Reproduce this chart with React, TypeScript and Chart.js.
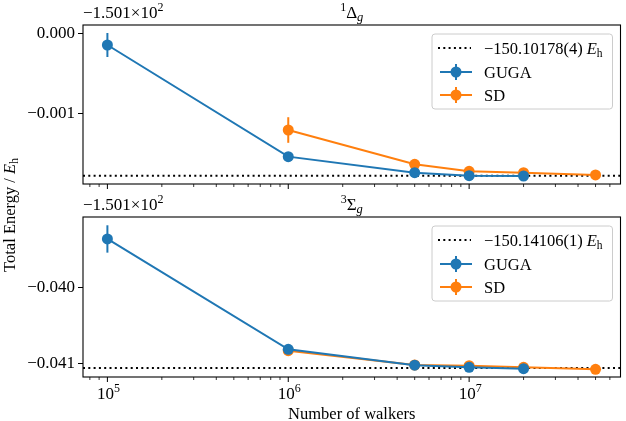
import React, { useEffect, useRef } from "react";
import { Chart, registerables } from "chart.js";

Chart.register(...registerables);

// ---------------- data ----------------
const gugaWalkers = [1e5, 1e6, 5e6, 1e7, 2e7];
const sdWalkers = [1e6, 5e6, 1e7, 2e7, 5e7];

// 1Δg panel (values relative to offset -150.1)
const deltaGuga = [-0.000146, -0.001542, -0.001742, -0.00178, -0.001784];
const deltaGugaErr = [0.00015, 0.00002, 0.00001, 0.00001, 0.00001];
const deltaSd = [-0.001209, -0.001638, -0.001725, -0.001742, -0.001771];
const deltaSdErr = [0.00016, 0.00002, 0.00001, 0.00001, 0.00001];
const deltaRef = -0.00178;
const deltaRefLabel = "\u2212150.10178(4) ";
const deltaYTicks = [0, -0.001];
const deltaYRange = [-0.001884, 0.000104];

// 3Σg panel
const sigmaGuga = [-0.039364, -0.040816, -0.041025, -0.041053, -0.04107];
const sigmaGugaErr = [0.00018, 0.00001, 0.00001, 0.00001, 0.00001];
const sigmaSd = [-0.040834, -0.041022, -0.041031, -0.041053, -0.041079];
const sigmaSdErr = [0.00001, 0.00001, 0.00001, 0.00001, 0.00001];
const sigmaRef = -0.04106;
const sigmaRefLabel = "\u2212150.14106(1) ";
const sigmaYTicks = [-0.04, -0.041];
const sigmaYRange = [-0.04118, -0.039075];

const xRange = [7.33e4, 6.87e7];
const xMajorTicks = [1e5, 1e6, 1e7];
const xMajorExponents = ["5", "6", "7"];
const xMinorTicks = [
  8e4, 9e4, 2e5, 3e5, 4e5, 5e5, 6e5, 7e5, 8e5, 9e5, 2e6, 3e6, 4e6, 5e6, 6e6,
  7e6, 8e6, 9e6, 2e7, 3e7, 4e7, 5e7, 6e7,
];
const seriesNames = ["GUGA", "SD"];
const offsetText = "\u22121.501\u00d710";
const offsetExp = "2";
const xTitle = "Number of walkers";
const yTitle = "Total Energy / ";

// ---------------- styles ----------------
const BLUE = "#1f77b4";
const ORANGE = "#ff7f0e";
const SERIF = '"Liberation Serif", "Times New Roman", serif';
const f = (size: number, style = "") => `${style} ${size}px ${SERIF}`.trim();

type Run = { text: string; font: string; dy?: number };

function drawRuns(
  ctx: CanvasRenderingContext2D,
  runs: Run[],
  x: number,
  y: number,
  align: "left" | "center" | "right"
) {
  const widths = runs.map((r) => {
    ctx.font = r.font;
    return ctx.measureText(r.text).width;
  });
  const total = widths.reduce((a, b) => a + b, 0);
  let cx = align === "left" ? x : align === "center" ? x - total / 2 : x - total;
  ctx.textAlign = "left";
  ctx.textBaseline = "alphabetic";
  runs.forEach((r, i) => {
    ctx.font = r.font;
    ctx.fillText(r.text, cx, y + (r.dy || 0));
    cx += widths[i];
  });
}

const fmtY = (v: number) =>
  v === 0 ? "0.000" : (v < 0 ? "\u2212" : "") + Math.abs(v).toFixed(3);

type Panel = {
  guga: number[];
  gugaErr: number[];
  sd: number[];
  sdErr: number[];
  ref: number;
  refLabel: string;
  yTicks: number[];
  yRange: number[];
  titleRuns: Run[];
  padTop: number;
  padBottom: number;
  bottom: boolean;
};

function makeConfig(p: Panel): any {
  const panelPlugin = {
    id: "panelDecor",
    beforeDatasetsDraw(chart: any) {
      const { ctx, chartArea } = chart;
      const y = chart.scales.y;
      const py = y.getPixelForValue(p.ref);
      ctx.save();
      ctx.strokeStyle = "#000";
      ctx.lineWidth = 2;
      ctx.setLineDash([2, 3.3]);
      ctx.beginPath();
      ctx.moveTo(chartArea.left, py);
      ctx.lineTo(chartArea.right, py);
      ctx.stroke();
      ctx.restore();
    },
    beforeDatasetDraw(chart: any, args: any) {
      const { ctx } = chart;
      const ds = chart.data.datasets[args.index];
      const y = chart.scales.y;
      const meta = args.meta;
      ctx.save();
      ctx.strokeStyle = ds.borderColor;
      ctx.lineWidth = 2;
      meta.data.forEach((pt: any, i: number) => {
        const v = ds.data[i].y;
        const e = ds.errors[i];
        ctx.beginPath();
        ctx.moveTo(pt.x, y.getPixelForValue(v + e));
        ctx.lineTo(pt.x, y.getPixelForValue(v - e));
        ctx.stroke();
      });
      ctx.restore();
    },
    afterDraw(chart: any) {
      const { ctx, chartArea } = chart;
      const { left, right, top, bottom } = chartArea;
      const x = chart.scales.x;
      ctx.save();
      // frame
      ctx.strokeStyle = "#000";
      ctx.lineWidth = 1.1;
      ctx.strokeRect(left, top, right - left, bottom - top);
      // x ticks
      ctx.lineWidth = 1;
      xMajorTicks.forEach((v) => {
        const px = x.getPixelForValue(v);
        ctx.beginPath();
        ctx.moveTo(px, bottom);
        ctx.lineTo(px, bottom + 5);
        ctx.stroke();
      });
      ctx.lineWidth = 0.8;
      xMinorTicks.forEach((v) => {
        const px = x.getPixelForValue(v);
        if (px < left || px > right) return;
        ctx.beginPath();
        ctx.moveTo(px, bottom);
        ctx.lineTo(px, bottom + 3);
        ctx.stroke();
      });
      ctx.fillStyle = "#000";
      if (p.bottom) {
        xMajorTicks.forEach((v, i) => {
          const px = x.getPixelForValue(v);
          drawRuns(
            ctx,
            [
              { text: "10", font: f(17) },
              { text: xMajorExponents[i], font: f(12), dy: -7 },
            ],
            px + 1,
            bottom + 22,
            "center"
          );
        });
        drawRuns(ctx, [{ text: xTitle, font: f(16.5) }], (left + right) / 2, 419, "center");
        // shared y label
        ctx.save();
        ctx.translate(15, 215);
        ctx.rotate(-Math.PI / 2);
        drawRuns(
          ctx,
          [
            { text: yTitle, font: f(16.5) },
            { text: "E", font: f(16.5, "italic") },
            { text: "h", font: f(11.5), dy: 3 },
          ],
          0,
          0,
          "center"
        );
        ctx.restore();
      }
      // offset text
      drawRuns(
        ctx,
        [
          { text: offsetText, font: f(17) },
          { text: offsetExp, font: f(12), dy: -7 },
        ],
        left,
        top - 7,
        "left"
      );
      // title
      drawRuns(ctx, p.titleRuns, (left + right) / 2, top - 7, "center");

      // legend
      const lx = 432;
      const lw = right - 8 - lx;
      const lt = top + 9;
      const lh = 75;
      ctx.beginPath();
      (ctx as any).roundRect(lx, lt, lw, lh, 3);
      ctx.fillStyle = "rgba(255,255,255,0.8)";
      ctx.fill();
      ctx.strokeStyle = "#cccccc";
      ctx.lineWidth = 1;
      ctx.stroke();
      const rows = [lt + 14, lt + 38, lt + 61];
      // dotted handle
      ctx.strokeStyle = "#000";
      ctx.lineWidth = 2;
      ctx.setLineDash([2, 3.3]);
      ctx.beginPath();
      ctx.moveTo(lx + 6, rows[0]);
      ctx.lineTo(lx + 39, rows[0]);
      ctx.stroke();
      ctx.setLineDash([]);
      [BLUE, ORANGE].forEach((c, i) => {
        const ry = rows[i + 1];
        ctx.strokeStyle = c;
        ctx.fillStyle = c;
        ctx.lineWidth = 2;
        ctx.beginPath();
        ctx.moveTo(lx + 8, ry);
        ctx.lineTo(lx + 40, ry);
        ctx.moveTo(lx + 24, ry - 8);
        ctx.lineTo(lx + 24, ry + 8);
        ctx.stroke();
        ctx.beginPath();
        ctx.arc(lx + 24, ry, 5.5, 0, Math.PI * 2);
        ctx.fill();
      });
      ctx.fillStyle = "#000";
      drawRuns(
        ctx,
        [
          { text: p.refLabel, font: f(16.5) },
          { text: "E", font: f(16.5, "italic") },
          { text: "h", font: f(11.5), dy: 3 },
        ],
        lx + 52,
        rows[0] + 6,
        "left"
      );
      drawRuns(ctx, [{ text: seriesNames[0], font: f(16.5) }], lx + 52, rows[1] + 6, "left");
      drawRuns(ctx, [{ text: seriesNames[1], font: f(16.5) }], lx + 52, rows[2] + 6, "left");
      ctx.restore();
    },
  };

  const mk = (xs: number[], ys: number[]) => xs.map((x, i) => ({ x, y: ys[i] }));

  return {
    type: "line",
    data: {
      datasets: [
        {
          label: seriesNames[0],
          data: mk(gugaWalkers, p.guga),
          errors: p.gugaErr,
          borderColor: BLUE,
          backgroundColor: BLUE,
          pointBackgroundColor: BLUE,
          pointBorderWidth: 0,
          pointRadius: 5.5,
          borderWidth: 2,
          tension: 0,
          clip: false,
        },
        {
          label: seriesNames[1],
          data: mk(sdWalkers, p.sd),
          errors: p.sdErr,
          borderColor: ORANGE,
          backgroundColor: ORANGE,
          pointBackgroundColor: ORANGE,
          pointBorderWidth: 0,
          pointRadius: 5.5,
          borderWidth: 2,
          tension: 0,
          clip: false,
        },
      ],
    },
    options: {
      responsive: false,
      maintainAspectRatio: false,
      devicePixelRatio: 1,
      animation: false,
      events: [],
      layout: { padding: { top: p.padTop, bottom: p.padBottom, left: 0, right: 1 } },
      plugins: { legend: { display: false }, tooltip: { enabled: false } },
      scales: {
        x: {
          type: "logarithmic",
          min: xRange[0],
          max: xRange[1],
          display: false,
        },
        y: {
          type: "linear",
          min: p.yRange[0],
          max: p.yRange[1],
          afterBuildTicks: (s: any) => {
            s.ticks = p.yTicks.map((v) => ({ value: v }));
          },
          afterFit: (s: any) => {
            s.width = 83;
          },
          ticks: {
            font: { family: SERIF, size: 17 },
            color: "#000",
            padding: 3,
            callback: (v: number) => fmtY(v),
          },
          grid: { drawOnChartArea: false, tickLength: 5, color: "#000", lineWidth: 1 },
          border: { display: false },
        },
      },
    },
    plugins: [panelPlugin],
  };
}

export default function App() {
  const topRef = useRef<HTMLCanvasElement>(null);
  const botRef = useRef<HTMLCanvasElement>(null);

  useEffect(() => {
    const top = new Chart(
      topRef.current as HTMLCanvasElement,
      makeConfig({
        guga: deltaGuga,
        gugaErr: deltaGugaErr,
        sd: deltaSd,
        sdErr: deltaSdErr,
        ref: deltaRef,
        refLabel: deltaRefLabel,
        yTicks: deltaYTicks,
        yRange: deltaYRange,
        titleRuns: [
          { text: "1", font: f(12), dy: -7 },
          { text: "\u0394", font: f(17) },
          { text: "g", font: f(12.5, "italic"), dy: 3 },
        ],
        padTop: 25,
        padBottom: 421 - 184,
        bottom: false,
      })
    );
    const bot = new Chart(
      botRef.current as HTMLCanvasElement,
      makeConfig({
        guga: sigmaGuga,
        gugaErr: sigmaGugaErr,
        sd: sigmaSd,
        sdErr: sigmaSdErr,
        ref: sigmaRef,
        refLabel: sigmaRefLabel,
        yTicks: sigmaYTicks,
        yRange: sigmaYRange,
        titleRuns: [
          { text: "3", font: f(12), dy: -7 },
          { text: "\u03a3", font: f(17) },
          { text: "g", font: f(12.5, "italic"), dy: 3 },
        ],
        padTop: 217,
        padBottom: 421 - 377,
        bottom: true,
      })
    );
    return () => {
      top.destroy();
      bot.destroy();
    };
  }, []);

  const cs: React.CSSProperties = { position: "absolute", left: 0, top: 0 };
  return (
    <div style={{ position: "fixed", left: 0, top: 0, width: 626, height: 421, background: "#fff" }}>
      <canvas ref={topRef} width={626} height={421} style={cs} />
      <canvas ref={botRef} width={626} height={421} style={cs} />
    </div>
  );
}
